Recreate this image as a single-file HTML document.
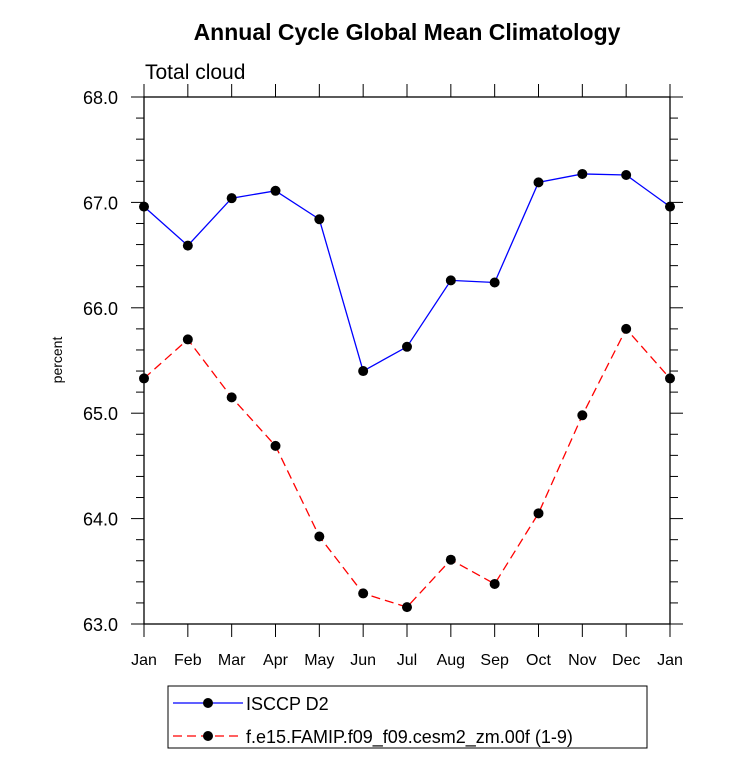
<!DOCTYPE html>
<html><head><meta charset="utf-8"><style>
body{margin:0;background:#fff;}
svg{display:block;font-family:"Liberation Sans",Arial,sans-serif;}
</style></head><body>
<svg id="chart" width="733" height="761">
<text x="407" y="40" text-anchor="middle" font-size="23" font-weight="bold">Annual Cycle Global Mean Climatology</text>
<text x="145" y="79" font-size="21">Total cloud</text>
<text transform="translate(62,360) rotate(-90)" text-anchor="middle" font-size="14">percent</text>
<g id="axes"></g>
<g id="series"></g>
<rect x="168" y="686" width="479" height="62" fill="none" stroke="#000" stroke-width="1"/>
<g>
<line x1="173" y1="703" x2="243" y2="703" stroke="#00f" stroke-width="1.3"/>
<circle cx="208" cy="703" r="5" fill="#000"/>
<text x="246" y="710" font-size="18">ISCCP D2</text>
</g>
<g>
<line x1="173" y1="736" x2="243" y2="736" stroke="#f00" stroke-width="1.3" stroke-dasharray="9,5"/>
<circle cx="208" cy="736" r="5" fill="#000"/>
<text x="246" y="743" font-size="18">f.e15.FAMIP.f09_f09.cesm2_zm.00f (1-9)</text>
</g>
</svg>
<script>
const months=["Jan","Feb","Mar","Apr","May","Jun","Jul","Aug","Sep","Oct","Nov","Dec","Jan"];
const isccp=[66.96,66.59,67.04,67.11,66.84,65.40,65.63,66.26,66.24,67.19,67.27,67.26,66.96];
const model=[65.33,65.70,65.15,64.69,63.83,63.29,63.16,63.61,63.38,64.05,64.98,65.80,65.33];
const yTicks=[63,64,65,66,67,68];
const yMin=63,yMax=68;
const L=144,R=670,T=97,B=624;
const NS="http://www.w3.org/2000/svg";
function xs(i){return L+(R-L)*i/(months.length-1);}
function ys(v){return B-(B-T)*(v-yMin)/(yMax-yMin);}
function mk(tag,attrs,parent){const e=document.createElementNS(NS,tag);for(const k in attrs)e.setAttribute(k,attrs[k]);parent.appendChild(e);return e;}
const ax=document.getElementById('axes');
const frame=mk('rect',{x:L,y:T,width:R-L,height:B-T,fill:'none',stroke:'#000','stroke-width':1.3},ax);


for(let v=yMin;v<=yMax+1e-9;v+=0.2){
  const y=ys(v);const major=Math.abs(v-Math.round(v))<1e-6;const len=major?13:8;
  mk('line',{x1:L-len,y1:y,x2:L,y2:y,stroke:'#000','stroke-width':1},ax);
  mk('line',{x1:R,y1:y,x2:R+len,y2:y,stroke:'#000','stroke-width':1},ax);
}
yTicks.forEach(v=>{
  const t=mk('text',{x:L-26,y:ys(v)+7,'text-anchor':'end','font-size':18},ax);
  t.textContent=v.toFixed(1);
  
  
});
months.forEach((m,i)=>{
  const x=xs(i);
  mk('line',{x1:x,y1:B,x2:x,y2:B+13,stroke:'#000','stroke-width':1},ax);
  mk('line',{x1:x,y1:T,x2:x,y2:T-13,stroke:'#000','stroke-width':1},ax);
  const t=mk('text',{x:x,y:665,'text-anchor':'middle','font-size':16},ax);
  t.textContent=m;
  
  
});
const sg=document.getElementById('series');
function draw(vals,color,dash,name){
  const g=mk('g',{},sg);
  
  
  const pts=vals.map((v,i)=>xs(i)+','+ys(v)).join(' ');
  const a={points:pts,fill:'none',stroke:color,'stroke-width':1.3};
  if(dash)a['stroke-dasharray']=dash;
  mk('polyline',a,g);
  vals.forEach((v,i)=>{
    const c=mk('circle',{cx:xs(i),cy:ys(v),r:5,fill:'#000'},g);
    
    
  });
}
draw(isccp,'#00f',null,'series-isccp');
draw(model,'#f00','9,5','series-model');
</script>
</body></html>
